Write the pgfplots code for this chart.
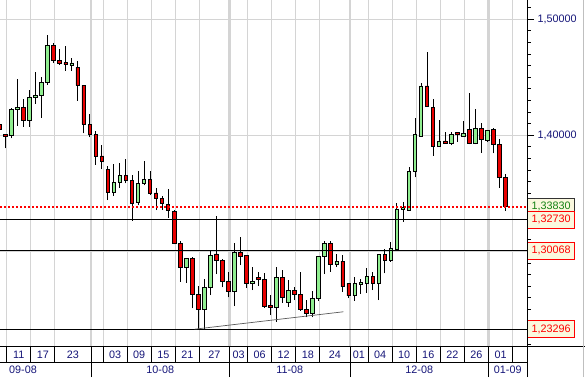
\documentclass[border=0pt]{standalone}
\usepackage{pgfplots}
\pgfplotsset{compat=1.18}
\usepackage{pgfplotstable}
\usepackage{fontspec}
\setmainfont{Liberation Sans}
\definecolor{gridgray}{RGB}{212,212,212}
\definecolor{cgreen}{RGB}{144,238,144}
\definecolor{cred}{RGB}{232,0,0}
\definecolor{lblblue}{RGB}{20,20,120}
\definecolor{boxbg}{RGB}{250,248,222}
\definecolor{boxgreen}{RGB}{20,130,20}
\pgfplotstableread{
n o h l c
-1 1.4090 1.4141 1.4028 1.4050
0 1.4009 1.4012 1.3888 1.3991
1 1.3997 1.4233 1.3974 1.4224
2 1.4224 1.4485 1.4083 1.4241
3 1.4241 1.4313 1.4074 1.4129
4 1.4129 1.4388 1.4074 1.4328
5 1.4324 1.4546 1.4272 1.4345
6 1.4345 1.4503 1.4152 1.4457
7 1.4453 1.4865 1.4434 1.4776
8 1.4776 1.4798 1.4621 1.4647
9 1.4647 1.4744 1.4606 1.4617
10 1.4629 1.4770 1.4557 1.4609
11 1.4603 1.4666 1.4554 1.4623
12 1.4586 1.4638 1.4298 1.4431
13 1.4431 1.4431 1.4017 1.4095
14 1.4095 1.4184 1.3983 1.4009
15 1.4009 1.4037 1.3748 1.3819
16 1.3822 1.3916 1.3707 1.3774
17 1.3707 1.3735 1.3442 1.3509
18 1.3509 1.3750 1.3477 1.3595
19 1.3595 1.3759 1.3548 1.3655
20 1.3655 1.3793 1.3586 1.3612
21 1.3612 1.3660 1.3264 1.3414
22 1.3419 1.3690 1.3399 1.3586
23 1.3586 1.3776 1.3569 1.3621
24 1.3621 1.3690 1.3485 1.3497
25 1.3503 1.3543 1.3356 1.3457
26 1.3457 1.3479 1.3356 1.3410
27 1.3405 1.3534 1.3290 1.3356
28 1.3347 1.3356 1.3060 1.3066
29 1.3069 1.3089 1.2738 1.2862
30 1.2862 1.2945 1.2729 1.2940
31 1.2940 1.2947 1.2509 1.2629
32 1.2629 1.2701 1.2330 1.2500
33 1.2500 1.2764 1.2332 1.2692
34 1.2690 1.3003 1.2623 1.2968
35 1.2977 1.3307 1.2804 1.2919
36 1.2922 1.2931 1.2690 1.2741
37 1.2744 1.2824 1.2603 1.2652
38 1.2652 1.3069 1.2528 1.2991
39 1.2991 1.3123 1.2882 1.2957
40 1.2966 1.2966 1.2686 1.2724
41 1.2724 1.2862 1.2666 1.2744
42 1.2778 1.2822 1.2701 1.2759
43 1.2759 1.2810 1.2514 1.2528
44 1.2534 1.2623 1.2451 1.2517
45 1.2517 1.2867 1.2393 1.2776
46 1.2776 1.2839 1.2557 1.2606
47 1.2560 1.2753 1.2522 1.2660
48 1.2666 1.2695 1.2580 1.2629
49 1.2629 1.2824 1.2488 1.2500
50 1.2500 1.2580 1.2431 1.2462
51 1.2462 1.2660 1.2431 1.2595
52 1.2595 1.2959 1.2572 1.2959
53 1.2953 1.3089 1.2804 1.3069
54 1.3069 1.3086 1.2824 1.2888
55 1.2888 1.2977 1.2867 1.2916
56 1.2916 1.2968 1.2652 1.2695
57 1.2724 1.2727 1.2597 1.2617
58 1.2617 1.2781 1.2572 1.2724
59 1.2716 1.2759 1.2632 1.2735
60 1.2724 1.2853 1.2643 1.2781
61 1.2781 1.2822 1.2666 1.2724
62 1.2724 1.2974 1.2580 1.2974
63 1.2974 1.3017 1.2810 1.2925
64 1.2925 1.3083 1.2910 1.3026
65 1.3017 1.3414 1.3005 1.3365
66 1.3362 1.3428 1.3255 1.3379
67 1.3356 1.3729 1.3350 1.3686
68 1.3686 1.4147 1.3638 1.4009
69 1.3988 1.4448 1.3988 1.4425
70 1.4425 1.4716 1.4253 1.4253
71 1.4241 1.4310 1.3824 1.3908
72 1.3902 1.4132 1.3902 1.3951
73 1.3951 1.4031 1.3925 1.3931
74 1.3931 1.4028 1.3914 1.4009
75 1.4026 1.4026 1.3945 1.4007
76 1.3991 1.4123 1.3991 1.4017
77 1.4052 1.4367 1.3922 1.3931
78 1.3931 1.4227 1.3922 1.4060
79 1.4060 1.4103 1.3850 1.3966
80 1.3953 1.4043 1.3945 1.4043
81 1.4052 1.4066 1.3845 1.3922
82 1.3922 1.3966 1.3548 1.3634
83 1.3638 1.3664 1.3350 1.3383
}\candles
\newcommand{\lblfont}{\fontsize{10.8pt}{12pt}\selectfont}
\begin{document}
\begin{tikzpicture}
\path[use as bounding box] (0,-30.3pt) rectangle (585pt,346.7pt);
\pgfplotsset{base/.style={at={(0,0)}, anchor=south west, scale only axis,
  width=527pt, height=346.7pt, xmin=-0.913, xmax=86.6, ymin=1.2178, ymax=1.5166,
  enlargelimits=false, axis line style={draw=none}}}
% background: grid, date separators, wicks
\begin{axis}[base,
  xtick={0.2,4.2,8.2,16.2,20.2,24.2,28.2,32.2,40.2,44.2,48.2,52.2,60.2,64.2,68.2,72.2,76.2,84.2},
  xticklabels={}, xticklabel style={opacity=0}, xtick pos=left, xmajorgrids, tick align=outside, major tick length=15.6pt,
  x tick style={black, line width=0.8pt},
  extra x ticks={14.2,37.2,57.2,80.2}, extra x tick labels={},
  extra x tick style={grid=major, major tick length=30.3pt, grid style={gridgray, line width=2.2pt}},
  ytick={1.3,1.4,1.5}, yticklabels={}, yticklabel style={opacity=0}, ymajorgrids, y tick style={draw=none},
  grid style={gridgray, line width=0.8pt}]
\addplot[draw=none, mark=none, error bars/.cd, y dir=plus, y explicit, error mark=none,
  error bar style={draw=black, line width=0.9pt}]
  table[x=n, y=l, y error plus expr=\thisrow{h}-\thisrow{l}] {\candles};
\end{axis}
% candle bodies and price axis
\begin{axis}[base, ybar stacked, bar width=3.6pt, xtick=\empty,
  ytick={1.4,1.5},
  minor ytick={1.22,1.23,1.24,1.25,1.26,1.27,1.28,1.29,1.30,1.31,1.32,1.33,1.34,1.35,1.36,1.37,1.38,1.39,1.41,1.42,1.43,1.44,1.45,1.46,1.47,1.48,1.49,1.51},
  ytick pos=right, yticklabel pos=right, tick align=outside,
  major tick length=7pt, minor tick length=3.5pt, tick style={black, line width=0.8pt},
  yticklabel style={font=\lblfont, text=lblblue, /pgf/number format/.cd, fixed, fixed zerofill, precision=5, use comma, assume math mode=true}]
\addplot[draw=none, fill=none] table[x=n, y expr={min(\thisrow{o},\thisrow{c})}] {\candles};
\addplot[draw=black, fill=cgreen, line width=0.8pt] table[x=n, y expr={max(\thisrow{c}-\thisrow{o},0)}] {\candles};
\addplot[draw=black, fill=cred, line width=0.8pt] table[x=n, y expr={max(\thisrow{o}-\thisrow{c},0)}] {\candles};
\end{axis}
% levels, trendline, labels
\begin{axis}[base, clip=false, ytick=\empty,
  xtick={2.2,6.2,11.2,18.2,22.2,26.2,30.2,34.7,38.7,42.2,46.2,50.2,54.7,58.7,62.2,66.2,70.2,74.2,78.2,82.2},
  xticklabels={11,17,23,03,09,15,21,27,03,06,12,18,24,01,04,10,16,22,26,01},
  x tick style={draw=none},
  xticklabel style={font=\lblfont, text=lblblue, anchor=center, yshift=-8.3pt},
  extra x ticks={2.9,25.7,47.2,68.7,83.4},
  extra x tick labels={09-08,10-08,11-08,12-08,01-09},
  extra x tick style={xticklabel style={yshift=-15pt}}]
\addplot[red, line width=2pt, dash pattern=on 2pt off 2pt] coordinates {(-0.913,1.3383) (86.6,1.3383)};
\addplot[black, line width=0.8pt] coordinates {(-0.913,1.3273) (86.6,1.3273)};
\addplot[black, line width=0.8pt] coordinates {(-0.913,1.30068) (86.6,1.30068)};
\addplot[black, line width=0.8pt] coordinates {(-0.913,1.23296) (86.6,1.23296)};
\addplot[gray!70!black, line width=0.7pt] coordinates {(31.4,1.2329) (56.1,1.2479)};
\node[draw=black!80, fill=boxbg, text=boxgreen, line width=0.7pt, minimum width=47.4pt, minimum height=17pt, inner sep=0pt, anchor=west, font=\lblfont] at (axis cs:86.6,1.3383) {1,33830};
\node[draw=red, fill=boxbg, text=red, line width=0.8pt, minimum width=47.4pt, minimum height=17pt, inner sep=0pt, anchor=west, font=\lblfont] at (axis cs:86.6,1.3273) {1,32730};
\node[draw=red, fill=boxbg, text=red, line width=0.8pt, minimum width=47.4pt, minimum height=17pt, inner sep=0pt, anchor=west, font=\lblfont] at (axis cs:86.6,1.30068) {1,30068};
\node[draw=red, fill=boxbg, text=red, line width=0.8pt, minimum width=47.4pt, minimum height=17pt, inner sep=0pt, anchor=west, font=\lblfont] at (axis cs:86.6,1.23296) {1,23296};
\end{axis}
\draw[black, line width=0.8pt] (0,0) -- (585pt,0);
\draw[black, line width=0.8pt] (527pt,-30.3pt) -- (527pt,346.7pt);
\draw[black, line width=0.8pt] (0,-15.6pt) -- (527pt,-15.6pt);
\draw[gray!50, line width=0.8pt] (583.5pt,-30.3pt) -- (583.5pt,346.7pt);
\end{tikzpicture}
\end{document}
